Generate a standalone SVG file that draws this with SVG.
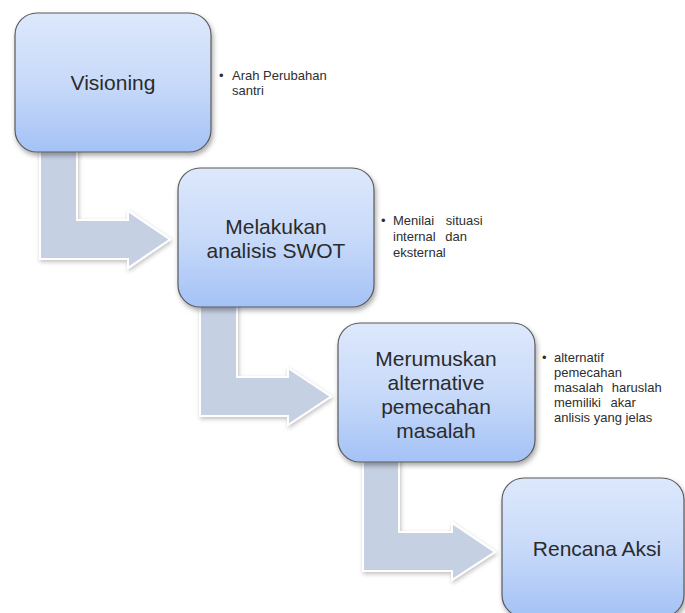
<svg xmlns="http://www.w3.org/2000/svg" width="685" height="613" viewBox="0 0 685 613">
  <defs>
    <linearGradient id="boxGrad" x1="0" y1="0" x2="0" y2="1">
      <stop offset="0" stop-color="#dde8fc"/>
      <stop offset="0.5" stop-color="#c8daf9"/>
      <stop offset="1" stop-color="#a4c2f6"/>
    </linearGradient>
    <filter id="boxShadow" x="-10%" y="-10%" width="125%" height="130%">
      <feDropShadow dx="1.5" dy="3" stdDeviation="2.5" flood-color="#000" flood-opacity="0.35"/>
    </filter>
    <filter id="arrowShadow" x="-10%" y="-10%" width="130%" height="130%">
      <feDropShadow dx="1" dy="2" stdDeviation="2" flood-color="#000" flood-opacity="0.25"/>
    </filter>
  </defs>
  <style>
    .box { fill: url(#boxGrad); stroke: #5a5a5a; stroke-width: 1.2; filter: url(#boxShadow); }
    .arrow { fill: #c6d0e3; stroke: #ffffff; stroke-width: 2; stroke-linejoin: miter; filter: url(#arrowShadow); }
    .label { font-family: "Liberation Sans", Arial, sans-serif; font-size: 21px; fill: #2b2b2b; text-anchor: middle; }
    .note { font-family: "Liberation Sans", Arial, sans-serif; font-size: 13px; fill: #2e2e2e; }
  </style>
  <rect width="685" height="613" fill="#ffffff"/>

  <g id="connectors">
    <path class="arrow" d="M40,140 L77,140 L77,220 L128,220 L128,211 L170,239.5 L128,268 L128,259 L40,259 Z"/>
    <path class="arrow" d="M200,297 L237,297 L237,377 L288,377 L288,368 L331,396.5 L288,425 L288,416 L200,416 Z"/>
    <path class="arrow" d="M363,450 L399,450 L399,532 L452,532 L452,523 L495,552 L452,580 L452,571 L363,571 Z"/>
  </g>

  <g id="node-visioning">
    <rect class="box" x="15" y="13" width="196" height="139" rx="22" ry="22"/>
    <text class="label" x="113" y="90">Visioning</text>
    <text class="note" x="219" y="80">•</text>
    <text class="note" x="232" y="80">Arah Perubahan</text>
    <text class="note" x="232" y="95">santri</text>
  </g>

  <g id="node-swot">
    <rect class="box" x="178" y="168" width="196" height="139" rx="22" ry="22"/>
    <text class="label" x="276" y="234">Melakukan</text>
    <text class="label" x="276" y="258">analisis SWOT</text>
    <text class="note" x="381" y="225">•</text>
    <text class="note" x="393" y="225" word-spacing="8">Menilai situasi</text>
    <text class="note" x="393" y="241" word-spacing="6">internal dan</text>
    <text class="note" x="393" y="257">eksternal</text>
  </g>

  <g id="node-alternative">
    <rect class="box" x="338" y="323" width="197" height="139" rx="22" ry="22"/>
    <text class="label" x="436" y="366">Merumuskan</text>
    <text class="label" x="436" y="390">alternative</text>
    <text class="label" x="436" y="414">pemecahan</text>
    <text class="label" x="436" y="438">masalah</text>
    <text class="note" x="542" y="362">•</text>
    <text class="note" x="554" y="362">alternatif</text>
    <text class="note" x="554" y="377">pemecahan</text>
    <text class="note" x="554" y="392" word-spacing="5">masalah haruslah</text>
    <text class="note" x="554" y="407" word-spacing="6">memiliki akar</text>
    <text class="note" x="554" y="422">anlisis yang jelas</text>
  </g>

  <g id="node-rencana">
    <rect class="box" x="502" y="478" width="182" height="139" rx="22" ry="22"/>
    <text class="label" x="597" y="556">Rencana Aksi</text>
  </g>
</svg>
